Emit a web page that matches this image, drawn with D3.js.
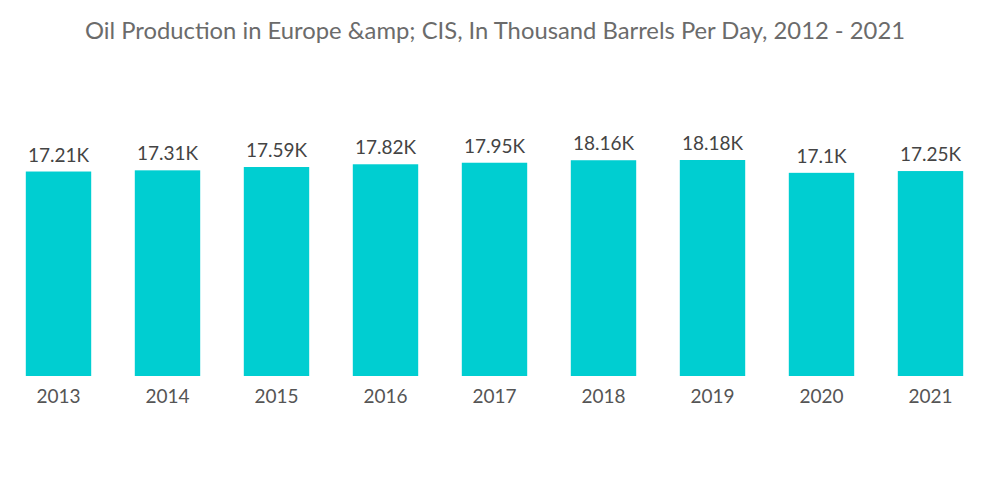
<!DOCTYPE html>
<html><head><meta charset="utf-8">
<script src="https://cdn.jsdelivr.net/npm/d3@7"></script>
<style>body{margin:0;background:#fff;}svg{display:block;}</style>
</head><body><svg id="c" width="1000" height="504"></svg>
<script>
const years = ["2013","2014","2015","2016","2017","2018","2019","2020","2021"];
const values = [17.21,17.31,17.59,17.82,17.95,18.16,18.18,17.1,17.25];
const labels = ["17.21K","17.31K","17.59K","17.82K","17.95K","18.16K","18.18K","17.1K","17.25K"];
const title = "Oil Production in Europe &amp; CIS, In Thousand Barrels Per Day, 2012 - 2021";

const svg = d3.select("#c");
const x = d3.scaleBand().domain(years).range([4, 985]).paddingInner(0.4).paddingOuter(0.2);
const y = d3.scaleLinear().domain([0, 18.18]).range([376, 160]);

svg.append("text").attr("x", 495).attr("y", 39).attr("text-anchor","middle")
  .attr("font-family","Lato, sans-serif").attr("font-size", 24).attr("fill","#6b6b6b")
  .attr("textLength", 820).attr("lengthAdjust","spacingAndGlyphs")
  .text(title);

svg.selectAll("rect.bar").data(values).join("rect").attr("class","bar")
  .attr("x",(d,i)=>x(years[i])).attr("width",x.bandwidth())
  .attr("y",d=>y(d)).attr("height",d=>y(0)-y(d)).attr("fill","#00CED1");

svg.selectAll("text.lbl").data(values).join("text").attr("class","lbl")
  .attr("x",(d,i)=>x(years[i])+x.bandwidth()/2).attr("y",d=>y(d)-10)
  .attr("text-anchor","middle").attr("font-family","Lato, sans-serif").attr("font-size",19)
  .attr("fill","#444").text((d,i)=>labels[i]);

const ax = svg.append("g").attr("transform","translate(0,376)")
  .call(d3.axisBottom(x).tickSize(0).tickPadding(14));
ax.select(".domain").remove();
ax.selectAll("text").attr("font-family","Lato, sans-serif").attr("font-size",19).attr("fill","#555");
</script></body></html>
